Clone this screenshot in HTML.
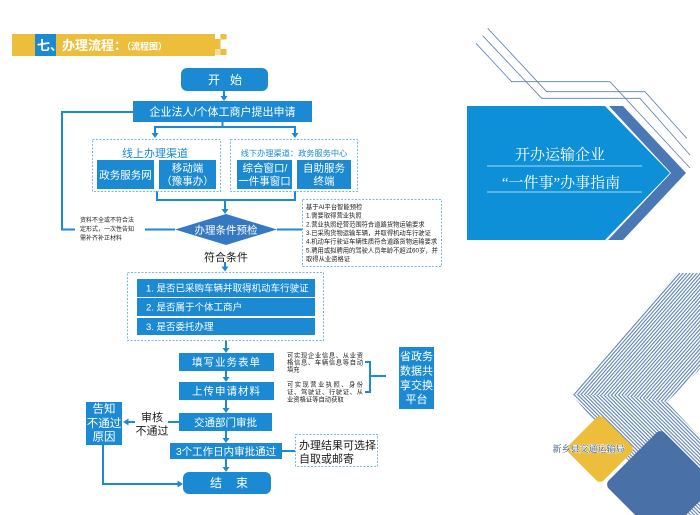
<!DOCTYPE html>
<html><head><meta charset="utf-8">
<style>
html,body{margin:0;padding:0;background:#fff;}
svg{display:block;}
text{font-family:"Liberation Sans","Noto Sans CJK SC",sans-serif;}
.w{fill:#fff;}
.k{fill:#1a1a1a;}
.sf{font-family:"Liberation Serif","Noto Serif CJK SC",serif;}
</style></head>
<body>
<svg width="700" height="515" viewBox="0 0 700 515" xmlns="http://www.w3.org/2000/svg">
<defs>
<pattern id="h1" patternUnits="userSpaceOnUse" width="2.6" height="2.6" patternTransform="rotate(-49)">
<rect width="2.6" height="2.6" fill="#fff"/><rect width="2.6" height="1.1" fill="#5f82b3"/>
</pattern>
<pattern id="h2" patternUnits="userSpaceOnUse" width="2.6" height="2.6" patternTransform="rotate(45)">
<rect width="2.6" height="2.6" fill="#fff"/><rect width="2.6" height="1.1" fill="#5f82b3"/>
</pattern>
</defs>

<!-- Header -->
<rect x="12" y="34" width="203" height="22" fill="#EDBE3C"/>
<rect x="35" y="34" width="21" height="22" fill="#1B8AD3"/>
<rect x="215" y="39" width="5.5" height="10" fill="#EDBE3C"/>
<rect x="220.5" y="34" width="6" height="5.5" fill="#EDBE3C"/>
<rect x="220.5" y="49" width="6" height="6" fill="#EDBE3C"/>
<rect x="215" y="49" width="5.5" height="6" fill="#f6dc98"/>
<text x="37" y="50" font-size="13" font-weight="bold" class="w">七、</text>
<text x="62" y="50" font-size="13" font-weight="bold" class="w">办理流程：</text>
<text x="122" y="49.5" font-size="9" font-weight="bold" class="w">（流程图）</text>

<!-- Start -->
<rect x="181" y="68" width="87" height="23" rx="6" fill="#1B8AD3"/>
<text x="214" y="84" font-size="12" text-anchor="middle" class="w">开</text>
<text x="236" y="84" font-size="12" text-anchor="middle" class="w">始</text>

<g stroke="#1B8AD3" stroke-width="2" fill="none">
<line x1="224" y1="91" x2="224" y2="97"/>
<line x1="222.5" y1="122" x2="222.5" y2="127"/>
<line x1="154" y1="127" x2="296" y2="127"/>
<line x1="155" y1="127" x2="155" y2="134"/>
<line x1="295" y1="127" x2="295" y2="134"/>
<polyline points="157,191 157,200 295,200 295,191"/>
<line x1="225" y1="200" x2="225" y2="210"/>
<line x1="277" y1="229.5" x2="302" y2="229.5"/>
<line x1="175" y1="229.5" x2="145" y2="229.5"/>
<polyline points="75,229.5 62,229.5 62,112 133,112"/>
<line x1="225" y1="262" x2="225" y2="267"/>
<line x1="226" y1="341" x2="226" y2="348"/>
<line x1="226" y1="371" x2="226" y2="378"/>
<line x1="226" y1="400" x2="226" y2="408"/>
<line x1="226" y1="431" x2="226" y2="438"/>
<line x1="226" y1="459" x2="226" y2="467"/>
<polyline points="365,362 370,362 370,392 365,392"/>
<line x1="370" y1="376" x2="386" y2="376"/>
<line x1="179" y1="422" x2="168" y2="422"/>
<line x1="135" y1="422" x2="127" y2="422"/>
<polyline points="103,445 103,484 178,484"/>
<line x1="282" y1="451" x2="295" y2="451"/>
</g>
<g fill="#1B8AD3">
<polygon points="220.5,96 227.5,96 224,101"/>
<polygon points="151.5,133 158.5,133 155,138"/>
<polygon points="291.5,133 298.5,133 295,138"/>
<polygon points="221.5,209 228.5,209 225,214"/>
<polygon points="221.5,266.5 228.5,266.5 225,271.5"/>
<polygon points="222.5,348 229.5,348 226,353"/>
<polygon points="222.5,377 229.5,377 226,382"/>
<polygon points="222.5,408 229.5,408 226,413"/>
<polygon points="222.5,438 229.5,438 226,443"/>
<polygon points="222.5,467 229.5,467 226,472"/>
<polygon points="123,422 128.5,418.5 128.5,425.5"/>
<polygon points="183,484 177.5,480.5 177.5,487.5"/>
</g>

<!-- Apply -->
<rect x="133" y="101" width="179" height="21" fill="#1B8AD3"/>
<text x="222.5" y="115.5" font-size="11" text-anchor="middle" class="w">企业法人/个体工商户提出申请</text>

<!-- channel boxes -->
<g fill="none" stroke="#7ab8e3" stroke-width="1" stroke-dasharray="2,1.5">
<rect x="92.5" y="139.5" width="128" height="52"/>
<rect x="230.5" y="139.5" width="127" height="52"/>
<rect x="302.5" y="199.5" width="139" height="67"/>
<rect x="127.5" y="272.5" width="196" height="68"/>
<rect x="295.5" y="434.5" width="82" height="32"/>
</g>
<text x="155" y="157" font-size="11" text-anchor="middle" fill="#1B8AD3">线上办理渠道</text>
<text x="294" y="156" font-size="8.2" text-anchor="middle" fill="#1B8AD3">线下办理渠道：政务服务中心</text>
<rect x="97" y="160" width="57" height="29" fill="#1B8AD3"/>
<rect x="159" y="160" width="57" height="29" fill="#1B8AD3"/>
<rect x="237" y="160" width="55" height="29" fill="#1B8AD3"/>
<rect x="297" y="160" width="54" height="29" fill="#1B8AD3"/>
<text x="125.5" y="178.3" font-size="10.5" text-anchor="middle" class="w">政务服务网</text>
<text x="187.5" y="171.7" font-size="10.5" text-anchor="middle" class="w">移动端</text>
<text x="187.5" y="184.7" font-size="10.5" text-anchor="middle" class="w">（豫事办）</text>
<text x="265" y="171.7" font-size="10.5" text-anchor="middle" class="w">综合窗口/</text>
<text x="264.5" y="184.7" font-size="10.5" text-anchor="middle" class="w">一件事窗口</text>
<text x="324" y="171.7" font-size="10.5" text-anchor="middle" class="w">自助服务</text>
<text x="324" y="184.7" font-size="10.5" text-anchor="middle" class="w">终端</text>

<!-- Diamond -->
<polygon points="175,229.5 226,214 277,229.5 226,245" fill="#3579C3"/>
<text x="226" y="233.3" font-size="10.5" text-anchor="middle" class="w">办理条件预检</text>
<text x="226" y="261" font-size="11" text-anchor="middle" class="k">符合条件</text>

<g font-size="6" class="k">
<text x="80" y="222">资料不全或不符合法</text>
<text x="80" y="231">定形式，一次性告知</text>
<text x="80" y="240">需补齐补正材料</text>
</g>

<g font-size="6.3" class="k">
<text x="306" y="209">基于AI平台智能预检</text>
<text x="306" y="217.7">1.需要取得营业执照</text>
<text x="306" y="226.3">2.营业执照经营范围符合道路货物运输要求</text>
<text x="306" y="235">3.已采购货物运输车辆，并取得机动车行驶证</text>
<text x="306" y="243.7">4.机动车行驶证车辆性质符合道路货物运输要求</text>
<text x="306" y="252.3">5.聘用或拟聘用的驾驶人员年龄不超过60岁，并</text>
<text x="306" y="261">取得从业资格证</text>
</g>

<!-- conditions -->
<rect x="137" y="279" width="178" height="18" fill="#1B8AD3"/>
<rect x="137" y="298" width="178" height="18" fill="#1B8AD3"/>
<rect x="137" y="318" width="178" height="17" fill="#1B8AD3"/>
<text x="146" y="291.3" font-size="9.5" class="w">1. 是否已采购车辆并取得机动车行驶证</text>
<text x="146" y="310.3" font-size="9.5" class="w">2. 是否属于个体工商户</text>
<text x="146" y="329.8" font-size="9.5" class="w">3. 是否委托办理</text>

<!-- form steps -->
<rect x="179" y="353" width="95" height="18" fill="#1B8AD3"/>
<text x="226.5" y="365.7" font-size="10.5" letter-spacing="1" text-anchor="middle" class="w">填写业务表单</text>
<rect x="179" y="382" width="95" height="18" fill="#1B8AD3"/>
<text x="226.5" y="394.7" font-size="10.5" letter-spacing="1" text-anchor="middle" class="w">上传申请材料</text>

<g font-size="6.3" class="k">
<text x="287" y="357.5" textLength="76" lengthAdjust="spacing">可实现企业信息、从业资</text>
<text x="287" y="364.5" textLength="76" lengthAdjust="spacing">格信息、车辆信息等自动</text>
<text x="287" y="371.5">填充</text>
<text x="287" y="386.5" textLength="76" lengthAdjust="spacing">可实现营业执照、身份</text>
<text x="287" y="394" textLength="76" lengthAdjust="spacing">证、驾驶证、行驶证、从</text>
<text x="287" y="401.5">业资格证等自动获取</text>
</g>

<rect x="399" y="347" width="35" height="62" fill="#1B8AD3"/>
<g font-size="11" text-anchor="middle" class="w">
<text x="416.5" y="360">省政务</text>
<text x="416.5" y="374.5">数据共</text>
<text x="416.5" y="389">享交换</text>
<text x="416.5" y="403">平台</text>
</g>

<!-- approval -->
<rect x="179" y="413" width="93" height="18" fill="#1B8AD3"/>
<text x="225.5" y="425.8" font-size="10.5" text-anchor="middle" class="w">交通部门审批</text>
<rect x="170" y="443" width="112" height="16" fill="#1B8AD3"/>
<text x="226" y="454.8" font-size="10.5" text-anchor="middle" class="w">3个工作日内审批通过</text>
<rect x="183" y="472" width="88" height="22" rx="6" fill="#1B8AD3"/>
<text x="216" y="487.2" font-size="12" text-anchor="middle" class="w">结</text>
<text x="242" y="487.2" font-size="12" text-anchor="middle" class="w">束</text>

<rect x="86" y="402" width="36" height="43" fill="#1B8AD3"/>
<g font-size="11.5" text-anchor="middle" class="w">
<text x="104" y="412.5">告知</text>
<text x="104" y="427">不通过</text>
<text x="104" y="440.5">原因</text>
</g>
<text x="152" y="421" font-size="11" text-anchor="middle" class="k">审核</text>
<text x="152" y="434.5" font-size="11" text-anchor="middle" class="k">不通过</text>
<text x="299" y="449" font-size="11" class="k">办理结果可选择</text>
<text x="299" y="462.5" font-size="11" class="k">自取或邮寄</text>

<!-- Right panel: thin lines -->
<g stroke="#5d7fae" stroke-width="0.8" fill="none">
<polyline points="487.7,28.3 546.7,91.7 645,91.7 686.7,138.3"/>
<polyline points="482.7,35.7 541.7,98.3 640,98.3 690,155"/>
<polyline points="476,43.3 511.7,81.7 610,81.7 690,168"/>
</g>
<polygon points="467,106 605,106 670,173 605,240 467,240" fill="#0E90D8"/>
<polygon points="609,106 623,106 686,173 623,240 608,240 671,173" fill="#4A78B5"/>
<text x="560" y="159.5" font-size="15" text-anchor="middle" class="w sf">开办运输企业</text>
<line x1="487" y1="166" x2="642" y2="166" stroke="#a8d8f4" stroke-width="1"/>
<text x="561" y="187.5" font-size="15" text-anchor="middle" class="w sf">“一件事”办事指南</text>
<line x1="487" y1="192" x2="642" y2="192" stroke="#a8d8f4" stroke-width="1"/>

<!-- bottom right decoration -->
<polygon points="572,395 677,273 700,273 700,369 667,402 621,395" fill="url(#h1)"/>
<polygon points="572,395 621,395 667,402 700,437 700,515 675,515" fill="url(#h2)"/>
<rect x="575.25" y="424.25" width="49.5" height="49.5" rx="5" fill="#EDBE3C" transform="rotate(45 600 449)"/>
<rect x="621" y="445" width="79" height="79" rx="6" fill="#4A70A8" transform="rotate(45 660.5 484.5)"/>
<text x="588.5" y="452" font-size="9" text-anchor="middle" class="sf" fill="#2c4a7a" stroke="#fff" stroke-width="0.9" paint-order="stroke">新乡县交通运输局</text>
</svg>
</body></html>
